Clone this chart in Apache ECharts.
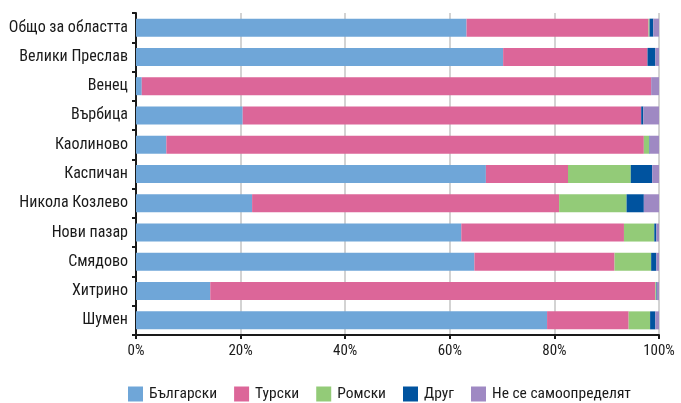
<!DOCTYPE html>
<html><head><meta charset="utf-8">
<script src="https://cdn.jsdelivr.net/npm/echarts@6/dist/echarts.min.js"></script>
<style>html,body{margin:0;padding:0;background:#fff}#c{width:681px;height:403px}</style>
</head><body><div id="c"></div>
<script>
const categories = ["Общо за областта","Велики Преслав","Венец","Върбица","Каолиново","Каспичан","Никола Козлево","Нови пазар","Смядово","Хитрино","Шумен"];
const seriesNames = ["Български","Турски","Ромски","Друг","Не се самоопределят"];
const bulgarian    = [63.2, 70.2,  1.1, 20.4,  5.8, 66.9, 22.2, 62.2, 64.7, 14.2, 78.6];
const turkish      = [34.8, 27.6, 97.4, 76.2, 91.3, 15.7, 58.7, 31.1, 26.8, 85.1, 15.6];
const roma         = [ 0.2,  0.0,  0.0,  0.0,  1.0, 12.0, 12.9,  5.8,  7.0,  0.2,  4.1];
const other        = [ 0.7,  1.5,  0.0,  0.4,  0.1,  4.1,  3.3,  0.4,  1.0,  0.1,  1.0];
const undetermined = [ 1.1,  0.7,  1.5,  3.0,  1.8,  1.3,  2.9,  0.5,  0.5,  0.4,  0.7];
const colors = ["#6FA6D8","#DC6699","#93CB78","#00539F","#9F89C3"];
const xTicks = [0,20,40,60,80,100];

const FONT = "'Roboto Condensed','DejaVu Sans Condensed',sans-serif";
const data = [bulgarian, turkish, roma, other, undetermined];
const chart = echarts.init(document.getElementById('c'), null, {renderer:'canvas'});
chart.setOption({
  animation:false,
  textStyle:{fontFamily:FONT},
  grid:{left:136, right:22, top:13, height:322},
  legend:{
    top:381, left:123, itemWidth:15, itemHeight:15, itemGap:17,
    icon:'rect',
    textStyle:{fontFamily:FONT, fontSize:15.5, color:'#1a1a1a', padding:[0,0,0,1]},
    data: seriesNames
  },
  xAxis:{
    type:'value', min:0, max:100, interval:20,
    axisLine:{show:true, lineStyle:{color:'#1a1a1a', width:2}},
    axisTick:{show:true, length:4, lineStyle:{color:'#1a1a1a', width:2}},
    splitLine:{show:true, lineStyle:{color:'#C4C4C4', width:1.5}},
    axisLabel:{formatter: v => xTicks.includes(v) ? v + '%' : '', fontFamily:FONT, fontSize:15, color:'#1a1a1a', margin:9}
  },
  yAxis:{
    type:'category', inverse:true, data:categories,
    axisLine:{show:true, lineStyle:{color:'#1a1a1a', width:2}},
    axisTick:{show:true, length:4, lineStyle:{color:'#1a1a1a', width:2}},
    axisLabel:{fontFamily:FONT, fontSize:16, color:'#1a1a1a', margin:8}
  },
  series: seriesNames.map((n,i)=>({
    name:n, type:'bar', stack:'all', data:data[i], barWidth:18,
    itemStyle:{color:colors[i]}
  }))
});
</script></body></html>
